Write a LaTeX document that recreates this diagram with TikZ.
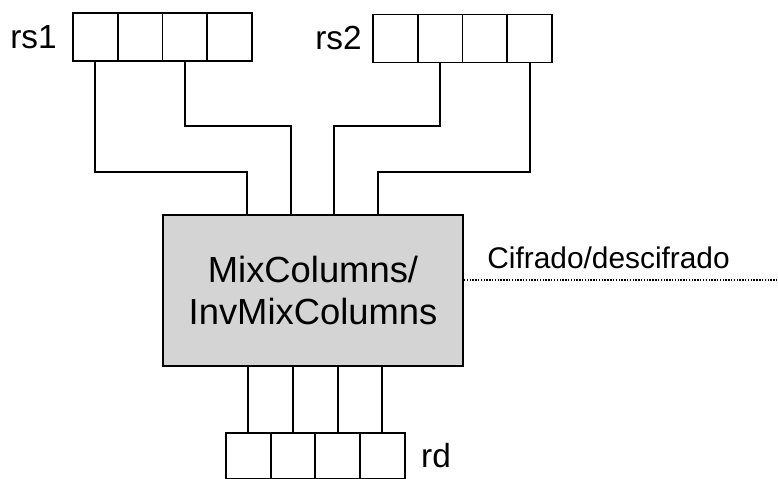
\documentclass[tikz,border=0pt]{standalone}
\usepackage{fontspec}
\setmainfont{Liberation Sans}
\usetikzlibrary{positioning,calc}

\definecolor{boxgray}{RGB}{212,212,212}
\tikzset{
  cell/.style={draw, line width=1.1pt, minimum width=0.895cm, minimum height=0.96cm, inner sep=0pt, outer sep=0pt},
  wire/.style={line width=1.1pt},
  reglabel/.style={inner sep=0pt, font=\fontsize{19}{22}\selectfont},
  ctlline/.style={line width=0.6pt, dash pattern=on 0.8pt off 0.8pt},
}

\begin{document}
\begin{tikzpicture}[x=0.02cm, y=-0.02cm]
  \useasboundingbox (0,0) rectangle (778,479);

  % registros rs1 y rs2
  \node[cell] (rs1-1) at (95.4,37) {};
  \foreach \i [count=\j from 2] in {1,2,3}
    \node[cell, right=0pt of rs1-\i] (rs1-\j) {};
  \node[cell] (rs2-1) at (395.4,38.5) {};
  \foreach \i [count=\j from 2] in {1,2,3}
    \node[cell, right=0pt of rs2-\i] (rs2-\j) {};
  \node[reglabel, left=0.32cm of rs1-1] (rs1) {rs1};
  \node[reglabel, left=0.22cm of rs2-1] (rs2) {rs2};

  % bloque
  \node[draw, fill=boxgray, line width=1.1pt, minimum width=6cm, minimum height=3.02cm,
        inner sep=0pt, align=center, font=\fontsize{20.7}{23.8}\selectfont] (mix) at (313,290.5)
        {MixColumns/\\InvMixColumns};

  % registro rd
  \node[cell, minimum height=0.92cm] (rd-1) at (248.2,456) {};
  \foreach \i [count=\j from 2] in {1,2,3}
    \node[cell, minimum height=0.92cm, right=0pt of rd-\i] (rd-\j) {};
  \node[reglabel, right=0.32cm of rd-4] (rd) {rd};

  % entradas al bloque
  \foreach \k/\dx in {1/-66,2/-22,3/21,4/65}
    \coordinate (in\k) at ($(mix.north)+(\dx,0)$);
  \coordinate (hibend) at (0,126);
  \coordinate (lobend) at (0,172);
  \draw[wire] (rs1-1.south) |- (in1 |- lobend) -- (in1);
  \draw[wire] (rs1-3.south) |- (in2 |- hibend) -- (in2);
  \draw[wire] (rs2-2.south) |- (in3 |- hibend) -- (in3);
  \draw[wire] (rs2-4.south) |- (in4 |- lobend) -- (in4);

  % salidas
  \foreach \k in {1,...,4}
    \draw[wire] (rd-\k.north) -- (rd-\k.north |- mix.south);

  % control
  \coordinate (ctl) at (778,280);
  \draw[ctlline] (mix.east |- ctl) -- (ctl);
  \node[anchor=base west, inner sep=0pt, font=\fontsize{17}{20}\selectfont] (ctltext) at (487,269)
    {Cifrado/descifrado};
\end{tikzpicture}
\end{document}
